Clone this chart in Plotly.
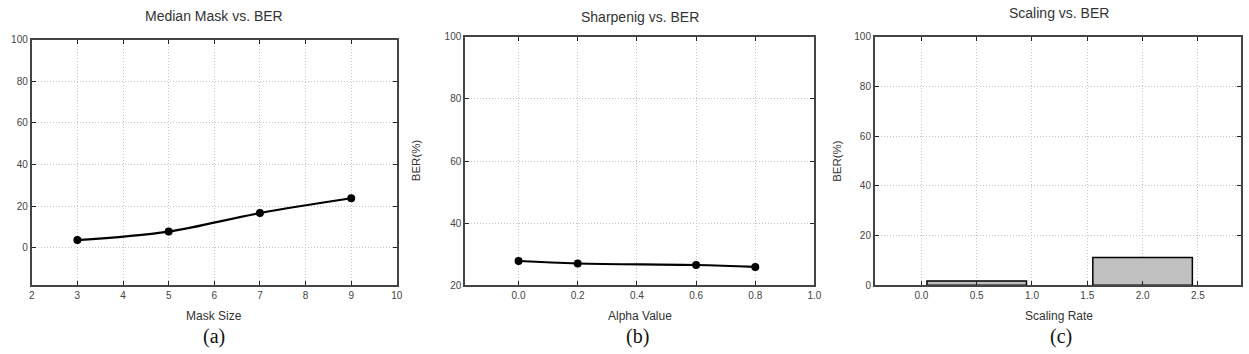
import plotly.graph_objects as go

# ---- data ----
mask_size = [3, 5, 7, 9]
mask_ber = [3.7, 7.8, 16.7, 23.8]

alpha_value = [0.0, 0.2, 0.6, 0.8]
alpha_ber = [27.8, 27.0, 26.5, 25.9]

scaling_rate = [0.5, 2.0]
scaling_ber = [1.7, 11.2]

W, H = 1249, 354
FONT = "Liberation Sans"

def px(x):
    return x / W

def py(y):
    return 1 - y / H

fig = go.Figure()

fig.add_trace(go.Scatter(
    x=mask_size, y=mask_ber, mode="lines+markers",
    line=dict(color="black", width=2.2, shape="spline"),
    marker=dict(color="black", size=8, symbol="circle"),
    xaxis="x", yaxis="y", showlegend=False))

fig.add_trace(go.Scatter(
    x=alpha_value, y=alpha_ber, mode="lines+markers",
    line=dict(color="black", width=2.2, shape="spline"),
    marker=dict(color="black", size=8, symbol="circle"),
    xaxis="x2", yaxis="y2", showlegend=False))

fig.add_trace(go.Bar(
    x=scaling_rate, y=scaling_ber, width=0.9,
    marker=dict(color="#c0c0c0", line=dict(color="black", width=1.5)),
    xaxis="x3", yaxis="y3", showlegend=False))

common = dict(
    showline=True, linecolor="#444444", linewidth=2, mirror="ticks",
    ticks="inside", ticklen=4, tickcolor="#222222", tickwidth=1,
    showgrid=True, gridcolor="#c4c4c4", griddash="1px,2px", gridwidth=1,
    zeroline=False, tickfont=dict(family=FONT, size=10, color="#444444"),
)

fig.update_layout(
    width=W, height=H,
    margin=dict(l=0, r=0, t=0, b=0),
    paper_bgcolor="white", plot_bgcolor="white",
    font=dict(family=FONT),
    xaxis=dict(domain=[px(29), px(397)], range=[2, 10], dtick=1, tick0=2,
               anchor="y", **common),
    yaxis=dict(domain=[py(289), py(35)], range=[-18, 100], dtick=20, tick0=0,
               anchor="x", **common),
    xaxis2=dict(domain=[px(466), px(818)], range=[-0.18, 1.0], dtick=0.2, tick0=0,
                tickformat=".1f", anchor="y2", **common),
    yaxis2=dict(domain=[py(289), py(32)], range=[20, 100], dtick=20, tick0=20,
                anchor="x2", **common),
    xaxis3=dict(domain=[px(879), px(1248)], range=[-0.42, 2.89], dtick=0.5, tick0=0,
                tickformat=".1f", anchor="y3", **common),
    yaxis3=dict(domain=[py(289), py(32)], range=[0, 100], dtick=20, tick0=0,
                anchor="x3", **common),
)

ann = []
def text(x, y, s, size=11, color="#333333", family=FONT, angle=0):
    ann.append(dict(x=px(x), y=py(y), xref="paper", yref="paper", text=s,
                    showarrow=False, xanchor="center", yanchor="middle",
                    textangle=angle,
                    font=dict(family=family, size=size, color=color)))

# titles
text(213, 10, "Median Mask vs. BER", size=14)
text(642, 11, "Sharpenig vs. BER", size=14)
text(1065, 7, "Scaling vs. BER", size=14)
# axis titles
text(213, 321, "Mask Size", size=12)
text(642, 321, "Alpha Value", size=12)
text(1065, 321, "Scaling Rate", size=12)
text(416, 160, "BER(%)", size=11.5, angle=-90)
text(840, 160, "BER(%)", size=11.5, angle=-90)
# captions
text(213, 342, "(a)", size=20, color="#111111", family="Liberation Serif")
text(640, 342, "(b)", size=20, color="#111111", family="Liberation Serif")
text(1067, 342, "(c)", size=20, color="#111111", family="Liberation Serif")

fig.update_layout(annotations=ann)

fig.write_html("out.html")
